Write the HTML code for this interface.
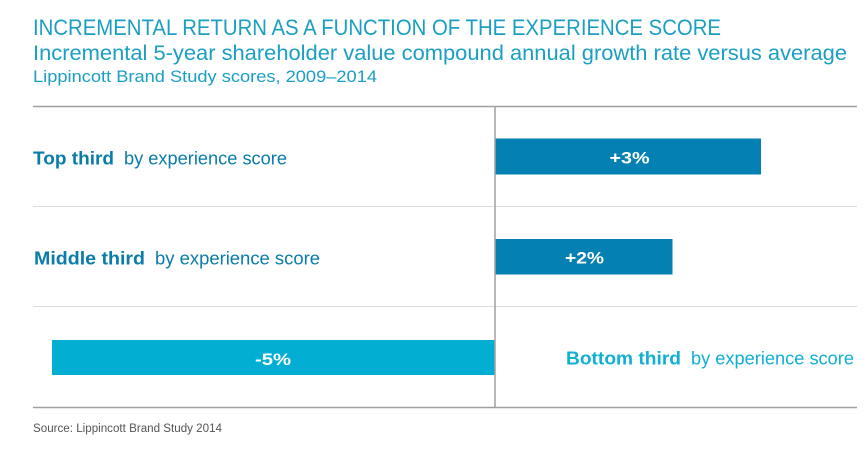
<!DOCTYPE html>
<html><head><meta charset="utf-8"><style>
html,body{margin:0;padding:0;background:#fff;}
svg{display:block;}
text{font-family:"Liberation Sans",sans-serif;}
</style></head><body>
<svg width="866" height="466" viewBox="0 0 866 466" xmlns="http://www.w3.org/2000/svg">
<rect width="866" height="466" fill="#fff"/>
<text x="33" y="35" font-size="22" fill="#1a9fc3" textLength="688" lengthAdjust="spacingAndGlyphs">INCREMENTAL RETURN AS A FUNCTION OF THE EXPERIENCE SCORE</text>
<text x="33" y="60" font-size="21" fill="#1a9fc3" textLength="814" lengthAdjust="spacingAndGlyphs">Incremental 5-year shareholder value compound annual growth rate versus average</text>
<text x="33" y="82" font-size="17" fill="#1a9fc3" textLength="344" lengthAdjust="spacingAndGlyphs">Lippincott Brand Study scores, 2009–2014</text>

<line x1="33" y1="106.5" x2="857" y2="106.5" stroke="#a0a0a0" stroke-width="1.5"/>
<line x1="33" y1="206.5" x2="857" y2="206.5" stroke="#dcdcdc" stroke-width="1"/>
<line x1="33" y1="306.5" x2="857" y2="306.5" stroke="#dcdcdc" stroke-width="1"/>
<line x1="33" y1="407.5" x2="857" y2="407.5" stroke="#a0a0a0" stroke-width="1.5"/>

<rect x="495" y="138.5" width="266" height="36" fill="#0580b2"/>
<rect x="495" y="239" width="177.5" height="35.5" fill="#0580b2"/>
<rect x="52" y="340" width="443" height="35" fill="#02afd3"/>

<line x1="495" y1="106" x2="495" y2="408" stroke="#a0a0a0" stroke-width="1.5"/>

<text x="33" y="164.5" font-size="18" font-weight="bold" fill="#0a7caa" textLength="81" lengthAdjust="spacingAndGlyphs">Top third</text>
<text x="124" y="164.5" font-size="18" fill="#0a7caa" textLength="163" lengthAdjust="spacingAndGlyphs">by experience score</text>

<text x="34" y="264.5" font-size="18" font-weight="bold" fill="#0a7caa" textLength="111" lengthAdjust="spacingAndGlyphs">Middle third</text>
<text x="155" y="264.5" font-size="18" fill="#0a7caa" textLength="165" lengthAdjust="spacingAndGlyphs">by experience score</text>

<text x="566" y="364.5" font-size="18" font-weight="bold" fill="#10b0d3" textLength="115" lengthAdjust="spacingAndGlyphs">Bottom third</text>
<text x="691" y="364.5" font-size="18" fill="#10b0d3" textLength="163" lengthAdjust="spacingAndGlyphs">by experience score</text>

<text x="629.5" y="163.5" font-size="17" font-weight="bold" fill="#fff" text-anchor="middle" textLength="40" lengthAdjust="spacingAndGlyphs">+3%</text>
<text x="584.5" y="263.5" font-size="17" font-weight="bold" fill="#fff" text-anchor="middle" textLength="39" lengthAdjust="spacingAndGlyphs">+2%</text>
<text x="273" y="365" font-size="17" font-weight="bold" fill="#fff" text-anchor="middle" textLength="36" lengthAdjust="spacingAndGlyphs">-5%</text>

<text x="33" y="432" font-size="11.5" fill="#555" textLength="189" lengthAdjust="spacingAndGlyphs">Source: Lippincott Brand Study 2014</text>
</svg>
</body></html>
